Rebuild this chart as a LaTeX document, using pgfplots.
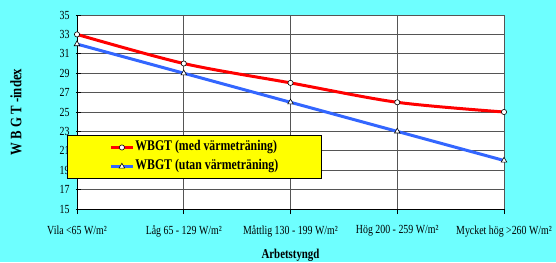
\documentclass[border=0pt]{standalone}
\usepackage{fontspec}
\setmainfont{Liberation Serif}[FakeStretch=0.8]
\usepackage{pgfplots}
\pgfplotsset{compat=1.18}
\definecolor{bgcyan}{RGB}{110,255,255}
\definecolor{rline}{RGB}{255,0,0}
\definecolor{bline}{RGB}{51,102,255}
\definecolor{gridc}{RGB}{85,85,85}
\definecolor{legy}{RGB}{255,255,0}
\begin{document}
\begin{tikzpicture}[x=1bp,y=1bp]
\fill[bgcyan] (-77,-53) rectangle (479,209);
\begin{axis}[
  at={(0,0)}, anchor=south west,
  scale only axis, width=427bp, height=194bp,
  xmin=0, xmax=4, ymin=15, ymax=35,
  axis background/.style={fill=white},
  axis lines*=left,
  axis line style={black, line width=0.9bp, -},
  xtick={0,1,2,3,4},
  xticklabels={{Vila <65 W/m²},{Låg 65 - 129 W/m²},{Måttlig 130 - 199 W/m²},{Hög 200 - 259 W/m²},{Mycket hög >260 W/m²}},
  ytick={15,17,...,35},
  grid=major,
  major grid style={gridc, line width=0.9bp},
  tick align=outside,
  major tick length=5bp,
  tick style={black, line width=0.9bp},
  ytick style={xshift=4bp},
  every tick label/.append style={font=\fontsize{12.4}{14}\selectfont},
  xticklabel style={yshift=-8bp},
  yticklabel style={xshift=1bp},
  /pgf/number format/assume math mode=true,
  xlabel={Arbetstyngd},
  xlabel style={at={(axis description cs:0.5,0)}, anchor=center, yshift=-46bp, font=\fontsize{13.6}{15}\selectfont\bfseries},
  ylabel={W B G T -index},
  ylabel style={at={(axis description cs:-0.1429,0.5)}, anchor=center, font=\fontsize{16}{18}\selectfont\bfseries},
  legend style={at={(axis description cs:-0.0234,0.381)}, anchor=north west,
     fill=legy, draw=black, line width=0.8bp, inner xsep=42bp, inner ysep=4bp,
     row sep=3bp,
     font=\fontsize{14.8}{16}\selectfont\bfseries,
     nodes={inner sep=1bp, text height=10.5bp, text depth=3.5bp}},
  legend cell align=left,
  legend image code/.code={\draw[mark repeat=2,mark phase=2,#1] plot coordinates {(0bp,0bp) (11bp,0bp) (22bp,0bp)};},
]
\addplot[rline, line width=3bp, smooth, mark=*, mark size=2.6bp,
  mark options={fill=white, draw=black, line width=0.6bp, solid}]
  coordinates {(0,33) (1,30) (2,28) (3,26) (4,25)};
\addlegendentry{WBGT (med värmeträning)}
\addplot[bline, line width=3bp, mark=triangle*, mark size=3.2bp,
  mark options={fill=white, draw=black, line width=0.6bp, solid}]
  coordinates {(0,32) (1,29) (2,26) (3,23) (4,20)};
\addlegendentry{WBGT (utan värmeträning)}
\end{axis}
\pgfresetboundingbox
\useasboundingbox (-77,-53) rectangle (479,209);
\end{tikzpicture}
\end{document}
